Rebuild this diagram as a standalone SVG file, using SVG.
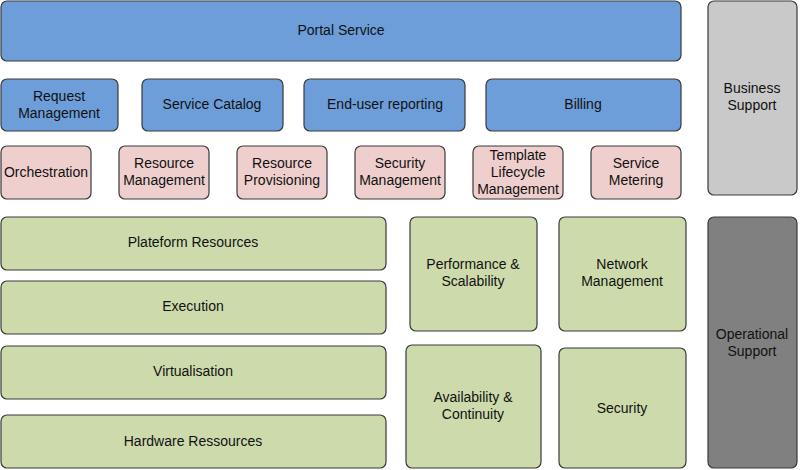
<svg xmlns="http://www.w3.org/2000/svg" width="800" height="470" viewBox="0 0 800 470">
<style>
rect{stroke:#3a3a3a;stroke-width:1.2}
.b{fill:#6d9eda}.p{fill:#eecfcd}.g{fill:#cddbac}.lg{fill:#c9c9c9}.dg{fill:#808080}
text{font-family:"Liberation Sans",Arial,sans-serif;font-size:14px;fill:#111;text-anchor:middle}
</style>
<rect width="800" height="470" fill="#fff" style="stroke:none"/>
<g id="portal"><rect class="b" x="1" y="1" width="680" height="60" rx="6"/><text x="341" y="35">Portal Service</text></g>
<g id="request"><rect class="b" x="1" y="79" width="117" height="52" rx="6"/><text x="59" y="101">Request</text><text x="59" y="118">Management</text></g>
<g id="catalog"><rect class="b" x="142" y="79" width="141" height="52" rx="6"/><text x="212" y="109">Service Catalog</text></g>
<g id="enduser"><rect class="b" x="304" y="79" width="161" height="52" rx="6"/><text x="385" y="109">End-user reporting</text></g>
<g id="billing"><rect class="b" x="486" y="79" width="195" height="52" rx="6"/><text x="583" y="109">Billing</text></g>
<g id="orch"><rect class="p" x="1" y="146" width="90" height="53" rx="6"/><text x="46" y="177">Orchestration</text></g>
<g id="resmgmt"><rect class="p" x="119" y="146" width="90" height="53" rx="6"/><text x="164" y="168">Resource</text><text x="164" y="185">Management</text></g>
<g id="resprov"><rect class="p" x="237" y="146" width="90" height="53" rx="6"/><text x="282" y="168">Resource</text><text x="282" y="185">Provisioning</text></g>
<g id="secmgmt"><rect class="p" x="355" y="146" width="90" height="53" rx="6"/><text x="400" y="168">Security</text><text x="400" y="185">Management</text></g>
<g id="template"><rect class="p" x="473" y="146" width="90" height="53" rx="6"/><text x="518" y="160">Template</text><text x="518" y="177">Lifecycle</text><text x="518" y="194">Management</text></g>
<g id="metering"><rect class="p" x="591" y="146" width="90" height="53" rx="6"/><text x="636" y="168">Service</text><text x="636" y="185">Metering</text></g>
<g id="business"><rect class="lg" x="708" y="1" width="89" height="194" rx="6"/><text x="752" y="93">Business</text><text x="752" y="110">Support</text></g>
<g id="operational"><rect class="dg" x="708" y="217" width="89" height="251" rx="6"/><text x="752" y="339">Operational</text><text x="752" y="356">Support</text></g>
<g id="plateform"><rect class="g" x="1" y="217" width="385" height="53" rx="6"/><text x="193" y="247">Plateform Resources</text></g>
<g id="execution"><rect class="g" x="1" y="281" width="385" height="53" rx="6"/><text x="193" y="311">Execution</text></g>
<g id="virtualisation"><rect class="g" x="1" y="346" width="385" height="53" rx="6"/><text x="193" y="376">Virtualisation</text></g>
<g id="hardware"><rect class="g" x="1" y="415" width="385" height="53" rx="6"/><text x="193" y="446">Hardware Ressources</text></g>
<g id="perf"><rect class="g" x="410" y="217" width="127" height="114" rx="6"/><text x="473" y="269">Performance &amp;</text><text x="473" y="286">Scalability</text></g>
<g id="network"><rect class="g" x="559" y="217" width="127" height="114" rx="6"/><text x="622" y="269">Network</text><text x="622" y="286">Management</text></g>
<g id="avail"><rect class="g" x="406" y="345" width="135" height="123" rx="6"/><text x="473" y="402">Availability &amp;</text><text x="473" y="419">Continuity</text></g>
<g id="security"><rect class="g" x="559" y="348" width="127" height="120" rx="6"/><text x="622" y="413">Security</text></g>
<g id="connectors"/>
</svg>
